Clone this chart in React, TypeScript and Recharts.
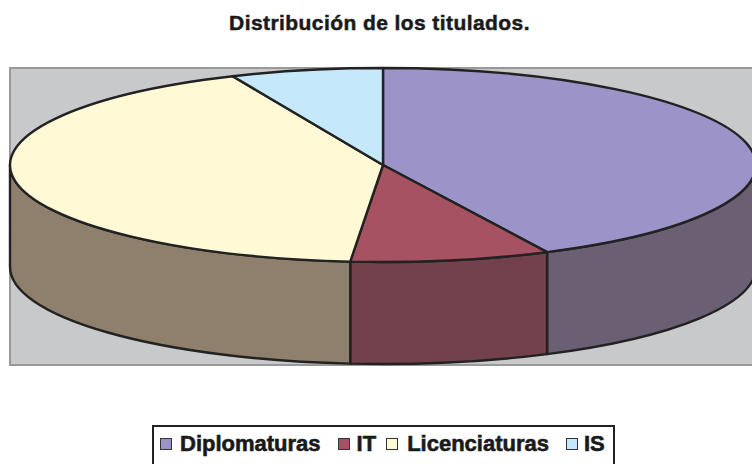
import { PieChart, Pie, Legend } from 'recharts'

const categories = ['Diplomaturas', 'IT', 'Licenciaturas', 'IS']
const shares = [42.75, 8.65, 42, 6.6]
const topColors = ['#9C94C8', '#A65262', '#FFF9D6', '#C5E9FA']
const sideColors = ['#6B5F73', '#73414B', '#8F806E', '#8F806E']

const data = categories.map((name, i) => ({
  name,
  value: shares[i],
  fill: topColors[i],
  side: sideColors[i],
}))

// Flattening of the disc and height of its wall, as the pie is drawn tilted.
const SQUASH = 0.26
const DEPTH = 102
const OUTLINE = '#222222'
const FONT = '"Liberation Sans", Arial, sans-serif'

function pt(cx: number, cy: number, r: number, deg: number) {
  const a = (-deg * Math.PI) / 180
  return { x: cx + r * Math.cos(a), y: cy + r * SQUASH * Math.sin(a) }
}

// Recharts hands over the angles; here they go onto an ellipse rather than a circle.
function TopSlice(props: any) {
  const { cx, cy, outerRadius: r, startAngle, endAngle, fill } = props
  const a = pt(cx, cy, r, startAngle)
  const b = pt(cx, cy, r, endAngle)
  const large = Math.abs(startAngle - endAngle) > 180 ? 1 : 0
  return (
    <path
      d={`M${cx},${cy}L${a.x},${a.y}A${r},${r * SQUASH} 0 ${large} 1 ${b.x},${b.y}Z`}
      fill={fill}
      stroke={OUTLINE}
      strokeWidth={2.4}
      strokeLinejoin="round"
    />
  )
}

// Only the front half of the disc (angles 0 to -180) shows a wall.
function SideSlice(props: any) {
  const { cx, cy, outerRadius: r, startAngle, endAngle, payload } = props
  const from = Math.min(startAngle, 0)
  const to = Math.max(endAngle, -180)
  if (from <= to) return null
  const a = pt(cx, cy, r, from)
  const b = pt(cx, cy, r, to)
  const ry = r * SQUASH
  return (
    <path
      d={`M${a.x},${a.y}A${r},${ry} 0 0 1 ${b.x},${b.y}L${b.x},${b.y + DEPTH}A${r},${ry} 0 0 0 ${a.x},${a.y + DEPTH}Z`}
      fill={payload.side}
      stroke={OUTLINE}
      strokeWidth={2.4}
      strokeLinejoin="round"
    />
  )
}

function LegendBox() {
  return (
    <div
      style={{
        boxSizing: 'border-box',
        position: 'absolute',
        left: 152,
        top: 425,
        width: 463,
        height: 60,
        border: `2px solid ${OUTLINE}`,
        background: '#fff',
        display: 'flex',
        paddingLeft: 6,
        paddingTop: 4,
        fontFamily: FONT,
        fontWeight: 700,
        fontSize: 22,
        color: '#1a1a1a',
        lineHeight: '26px',
        WebkitTextStroke: '0.6px #1a1a1a',
      }}
    >
      {data.map((d, i) => (
        <span key={d.name} style={{ display: 'flex', alignItems: 'center', height: 26, marginRight: [17, 10, 17, 0][i] }}>
          <span
            style={{
              width: 12,
              height: 12,
              boxSizing: 'border-box',
              background: d.fill,
              border: '1.5px solid #333',
              marginRight: [8, 7, 9, 6][i],
            }}
          />
          {d.name}
        </span>
      ))}
    </div>
  )
}

export default function App() {
  return (
    <div style={{ position: 'absolute', left: 0, top: 0, width: 752, height: 464, overflow: 'hidden', background: '#fff' }}>
      <PieChart width={752} height={464} margin={{ top: 0, right: 0, bottom: 0, left: 0 }}>
        <rect x={10} y={68} width={750} height={297} fill="#C8C9CB" stroke="#999999" strokeWidth={2} />
        <text
          x={379.5}
          y={30}
          textAnchor="middle"
          fontFamily={FONT}
          fontWeight={700}
          fontSize={21}
          letterSpacing={0.42}
          stroke="#1a1a1a"
          strokeWidth={0.5}
          fill="#1a1a1a"
        >
          Distribución de los titulados.
        </text>
        <Pie
          data={data}
          dataKey="value"
          nameKey="name"
          cx={383}
          cy={165}
          outerRadius={373}
          startAngle={90}
          endAngle={-270}
          stroke="none"
          legendType="none"
          shape={SideSlice}
          isAnimationActive={false}
        />
        <Pie
          data={data}
          dataKey="value"
          nameKey="name"
          cx={383}
          cy={165}
          outerRadius={373}
          startAngle={90}
          endAngle={-270}
          shape={TopSlice}
          isAnimationActive={false}
        />
        <Legend
          content={() => <LegendBox />}
          wrapperStyle={{ left: 0, top: 0, bottom: 'auto', width: 752, height: 464 }}
        />
      </PieChart>
    </div>
  )
}
